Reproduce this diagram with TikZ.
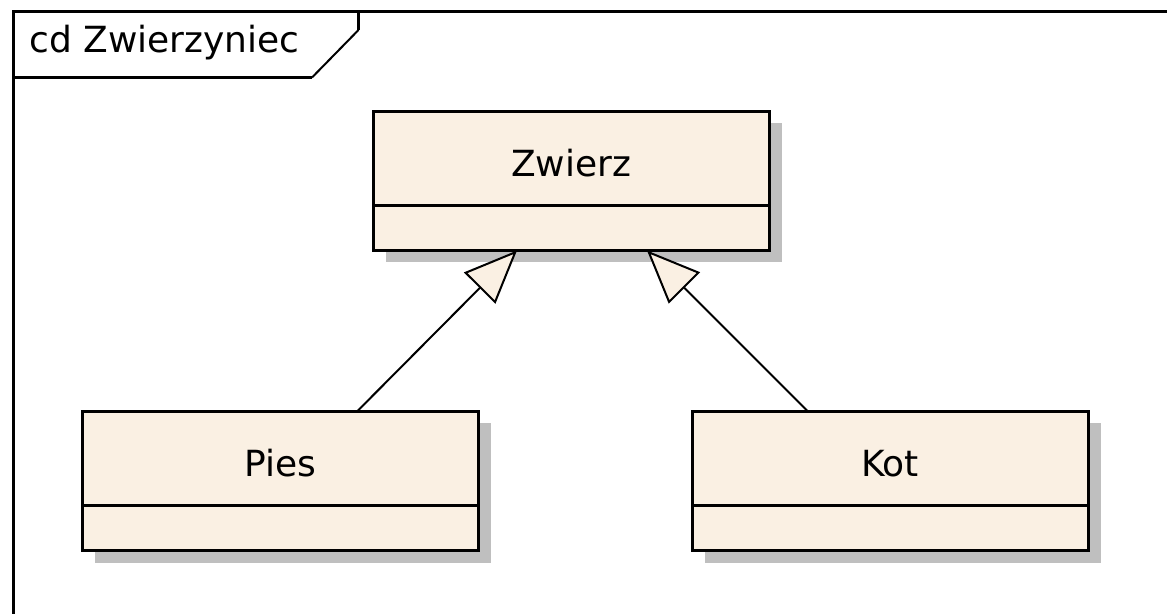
\documentclass[tikz,border=0pt]{standalone}
\usepackage{fontspec}
\setmainfont{DejaVu Sans}
\usetikzlibrary{positioning}
\usetikzlibrary{shadows}
\usetikzlibrary{arrows.meta}
\definecolor{classfill}{RGB}{250,240,227}
\definecolor{shadowgray}{RGB}{191,191,191}

\begin{document}
\begin{tikzpicture}[
	x=0.5pt, y=-0.5pt,
	frame/.style={draw=black, line width=1.5pt},
	cls/.style={rectangle, draw=black, fill=classfill, line width=1.5pt, minimum width=198pt, minimum height=69.5pt, inner sep=0pt, outer sep=0pt, text height=32.5pt, text depth=37pt, font=\fontsize{18}{21}\selectfont, drop shadow={shadow xshift=6.25pt, shadow yshift=-6pt, opacity=1, fill=shadowgray}},
	gen/.style={-{Triangle[length=26.5pt, width=22pt, fill=classfill]}, line width=1pt},
	]
	\useasboundingbox (0,0) rectangle (1167,614);
	\clip (0,0) rectangle (1167,614);
	
	%Frame
	\draw[frame] (13.7,700) |- (1200,11.3);
	\draw[frame] (358.5,11.3) -- (358.5,30);
	\draw[line width=1pt] (358.5,30) -- (312,77.5);
	\draw[frame] (312,77.5) -- (13.7,77.5);
	\node[anchor=base west, inner sep=0pt, font=\fontsize{18}{21}\selectfont] (title) at (29,53) {cd Zwierzyniec};
	
	%Nodes
	\node[cls]  (zwierz)  at (571,181)                                  {Zwierz};
	\node[cls]  (pies)    [below=80.5pt of zwierz.south, xshift=-145.25pt] {Pies};
	\node[cls]  (kot)     [below=80.5pt of zwierz.south, xshift=159.5pt]   {Kot};
	
	\foreach \c in {zwierz, pies, kot}
		\draw[line width=1.5pt] ([yshift=22.5pt]\c.south west) -- ([yshift=22.5pt]\c.south east);
	
	%Lines
	\draw[gen] ([xshift=38.25pt]pies.north) -- ([xshift=-27pt]zwierz.south);
	\draw[gen] ([xshift=-41pt]kot.north)    -- ([xshift=38pt]zwierz.south);
\end{tikzpicture}
\end{document}
